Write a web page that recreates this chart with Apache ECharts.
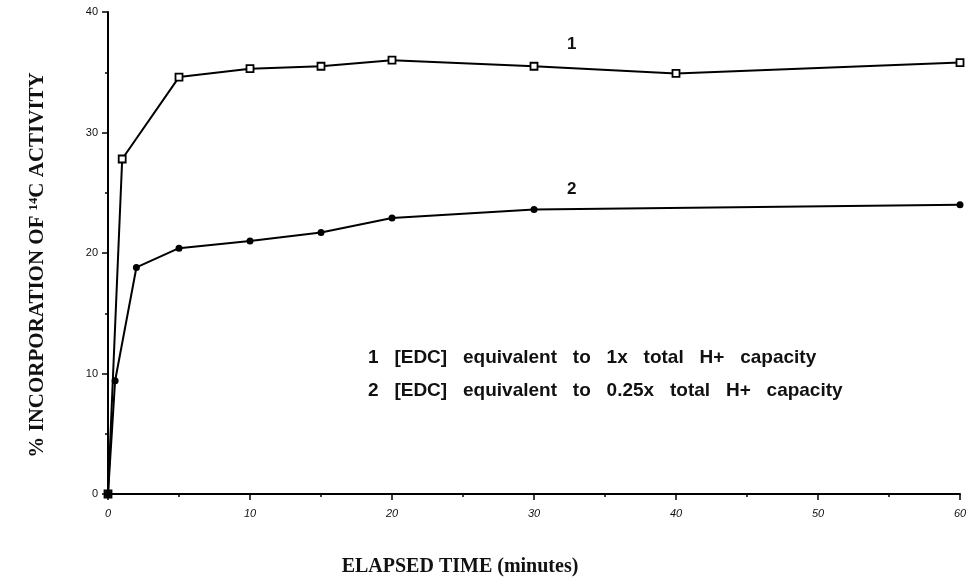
<!DOCTYPE html>
<html>
<head>
<meta charset="utf-8">
<script src="https://cdn.jsdelivr.net/npm/echarts@6/dist/echarts.min.js"></script>
<style>html,body{margin:0;padding:0;background:#fff;}#c{width:977px;height:582px;}</style>
</head>
<body>
<div id="c"></div>
<script>
// Elapsed time (minutes) and % incorporation for each curve
const time1 = [0, 1, 5, 10, 15, 20, 30, 40, 60];
const series1 = [0, 27.8, 34.6, 35.3, 35.5, 36.0, 35.5, 34.9, 35.8];
const time2 = [0, 0.5, 2, 5, 10, 15, 20, 30, 60];
const series2 = [0, 9.4, 18.8, 20.4, 21.0, 21.7, 22.9, 23.6, 24.0];
const xTicks = [0, 10, 20, 30, 40, 50, 60];
const yTicks = [0, 10, 20, 30, 40];
const label1 = '1';
const label2 = '2';
const note1 = '1   [EDC]   equivalent   to   1x   total   H+   capacity';
const note2 = '2   [EDC]   equivalent   to   0.25x   total   H+   capacity';

const chart = echarts.init(document.getElementById('c'), null, {renderer: 'canvas'});
const pair = (xs, ys) => xs.map((x, i) => [x, ys[i]]);
const axisCommon = {
  axisLine: {show: true, lineStyle: {color: '#000', width: 2}},
  axisTick: {show: true, inside: false, length: 6, lineStyle: {color: '#000', width: 1.5}},
  minorTick: {show: true, splitNumber: 2, length: 3, lineStyle: {color: '#000', width: 1.5}},
  splitLine: {show: false},
  minorSplitLine: {show: false}
};
chart.setOption({
  animation: false,
  backgroundColor: '#fff',
  grid: {left: 108, right: 17, top: 12, bottom: 78, containLabel: false},
  xAxis: Object.assign({
    type: 'value', min: xTicks[0], max: xTicks[xTicks.length - 1], interval: 10,
    name: 'ELAPSED TIME (minutes)', nameLocation: 'middle', nameGap: 63,
    nameTextStyle: {fontFamily: 'Liberation Serif', fontWeight: 'bold', fontSize: 20, color: '#111', padding: [0, 148, 0, 0]},
    axisLabel: {fontFamily: 'Liberation Sans', fontSize: 11, fontStyle: 'italic', color: '#111', margin: 14}
  }, axisCommon),
  yAxis: Object.assign({
    type: 'value', min: yTicks[0], max: yTicks[yTicks.length - 1], interval: 10,
    name: '% INCORPORATION OF \u00B9\u2074C ACTIVITY', nameLocation: 'middle', nameGap: 60,
    nameTextStyle: {fontFamily: 'Liberation Serif', fontWeight: 'bold', fontSize: 21, color: '#111', padding: [0, 24, 0, 0]},
    axisLabel: {fontFamily: 'Liberation Sans', fontSize: 11, color: '#111', margin: 10}
  }, axisCommon),
  series: [
    {
      type: 'line', data: pair(time1, series1), symbol: 'rect', symbolSize: 7,
      lineStyle: {color: '#000', width: 2},
      itemStyle: {color: '#fff', borderColor: '#000', borderWidth: 1.8},
      z: 2
    },
    {
      type: 'line', data: pair(time2, series2), symbol: 'circle', symbolSize: 7,
      lineStyle: {color: '#000', width: 2},
      itemStyle: {color: '#000', borderColor: '#000', borderWidth: 0},
      z: 3
    }
  ],
  graphic: [
    {type: 'text', left: 567, top: 36, style: {text: label1, font: 'bold 17px "Liberation Sans"', fill: '#111'}},
    {type: 'text', left: 567, top: 181, style: {text: label2, font: 'bold 17px "Liberation Sans"', fill: '#111'}},
    {type: 'text', left: 368, top: 348, style: {text: note1, font: 'bold 19px "Liberation Sans"', fill: '#111'}},
    {type: 'text', left: 368, top: 381, style: {text: note2, font: 'bold 19px "Liberation Sans"', fill: '#111'}}
  ]
});
</script>
</body>
</html>
